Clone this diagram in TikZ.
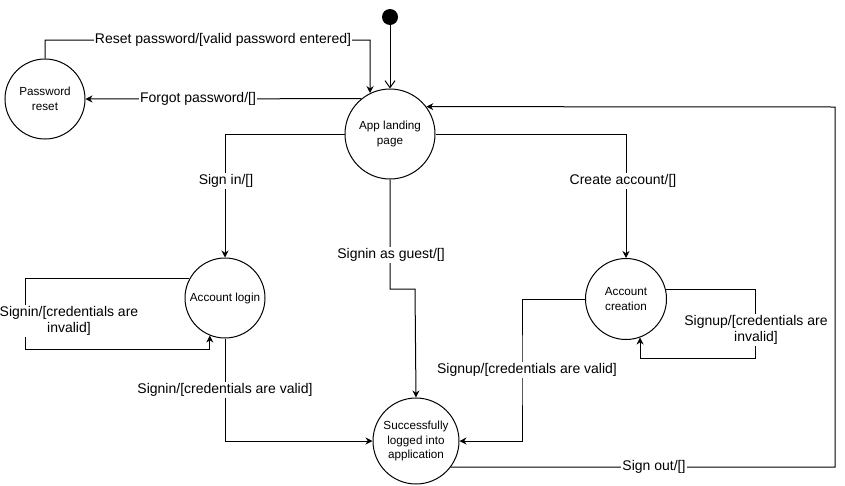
\documentclass[tikz,border=0pt]{standalone}
\usepackage{fontspec}
\setmainfont{Liberation Sans}
\usetikzlibrary{arrows.meta}
\tikzset{
  state/.style={draw, circle, line width=1pt, align=center, inner sep=0pt, font=\fontsize{11.7}{14.5}\selectfont},
  start/.style={circle, fill=black, minimum size=16pt, inner sep=0pt},
  edge/.style={line width=1pt, -{Stealth[length=7pt,width=7pt]}},
  openedge/.style={line width=1pt, -{Straight Barb[length=7pt,width=10pt]}},
  lbl/.style={fill=white, inner sep=1pt, align=center, font=\fontsize{14}{16.5}\selectfont},
}

\begin{document}
\begin{tikzpicture}[x=1pt,y=-1pt]
  %%%%% START %%%%%
  \useasboundingbox (0,0) rectangle (845,485);

  % states
  \node[start] (init) at (390,17) {};
  \node[state, minimum size=90pt] (land) at (390,134) {App landing\\page};
  \node[state, minimum size=80pt] (reset) at (45,99) {Password\\reset};
  \node[state, minimum size=80pt] (login) at (225,298) {Account login};
  \node[state, minimum size=81pt] (create) at (626,299) {Account\\creation};
  \node[state, minimum size=86pt] (succ) at (416,441) {Successfully\\logged into\\application};

  % bends
  \coordinate (rp) at (370,40);
  \coordinate (gs) at (415,289);
  \coordinate (li) at (25,349);
  \coordinate (ci) at (755,358);
  \coordinate (sv) at (522,370);
  \coordinate (so) at (835,107);

  % transitions
  \draw[openedge] (init) -- (land.north);
  \draw[edge] (reset.north) |- (rp) -- (land.116);
  \draw[edge] (land.129) -- (reset.east);
  \draw[edge] (land.west) -| (login.north);
  \draw[edge] (land.east) -| (create.north);
  \draw[edge] (land.south) |- (gs) -- (succ.north);
  \draw[edge] (login.152) -| (li) -| (login.-112);
  \draw[edge] (login.south) |- (succ.west);
  \draw[edge] (create.14) -| (ci) -| (create.-70);
  \draw[edge] (create.west) -| (sv) |- (succ.east);
  \draw[edge] (succ.-37) -| (so) -- (land.37);

  % labels
  \node[lbl] (lreset) at (223,40) {Reset password/[valid password entered]};
  \node[lbl] (lforgot) at (198,99) {Forgot password/[]};
  \node[lbl] (lsignin) at (226,181) {Sign in/[]};
  \node[lbl] (lcreate) at (623,181) {Create account/[]};
  \node[lbl] (lguest) at (391,255) {Signin as guest/[]};
  \node[lbl] (linvalid) at (69,321) {Signin/[credentials are\\invalid]};
  \node[lbl] (lvalid) at (225,390) {Signin/[credentials are valid]};
  \node[lbl] (lsvalid) at (527,370) {Signup/[credentials are valid]};
  \node[lbl] (lsinvalid) at (756,330) {Signup/[credentials are\\invalid]};
  \node[lbl] (lsignout) at (654,467) {Sign out/[]};
  %%%%% END %%%%%
\end{tikzpicture}
\end{document}
